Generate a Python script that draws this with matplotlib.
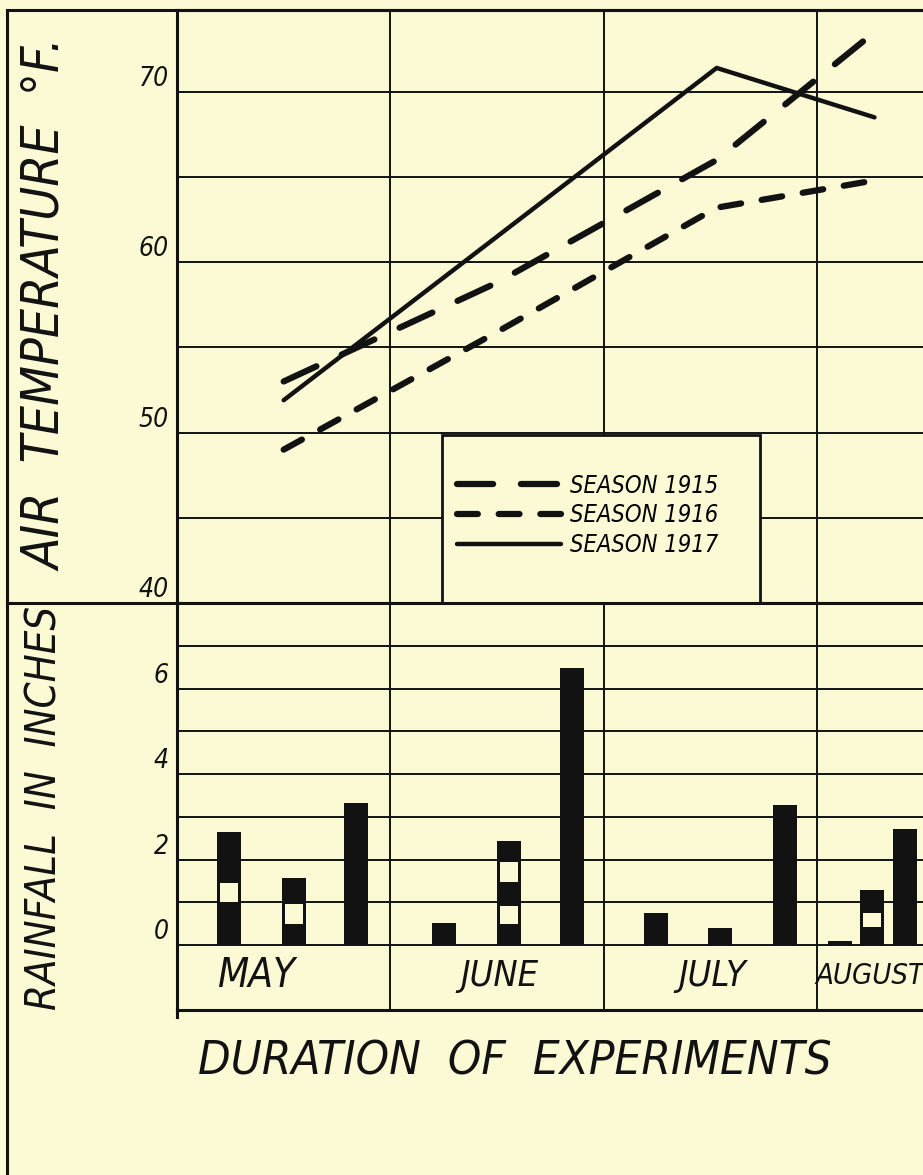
import matplotlib
matplotlib.use("Agg")
import matplotlib.pyplot as plt
from matplotlib.lines import Line2D
from matplotlib.patches import Rectangle

plt.rcParams['lines.scale_dashes'] = False

W, H = 923, 1175
BG = '#fcf9d5'
INK = '#121212'
FONT = ['DejaVu Sans']
STRETCH = 'condensed'

# x in month units: May starts at 0, each month is 1 wide
months = ['MAY', 'JUNE', 'JULY', 'AUGUST']
month_label_x = [0.37, 1.51, 2.51, 3.25]
month_label_size = [29, 26, 26, 21]

# air temperature, deg F
temp_x = [0.5, 1.5, 2.53, 3.27]
temp_1915 = [53.0, 58.8, 66.0, 73.5]
temp_1916 = [49.0, 55.9, 63.2, 64.8]
temp_1917 = [51.9, 61.5, 71.4, 68.5]

# rainfall, inches
rain_x_1915 = [0.244, 1.252, 2.246, 3.108]
rain_x_1916 = [0.549, 1.557, 2.546, 3.258]
rain_x_1917 = [0.839, 1.852, 2.850, 3.413]
rain_1915 = [2.64, 0.51, 0.75, 0.09]
rain_1916 = [1.57, 2.43, 0.40, 1.29]
rain_1917 = [3.32, 6.48, 3.27, 2.71]
# light bands inside some bars
band_x = [0.244, 0.549, 1.557, 1.557, 3.258]
band_lo = [1.01, 0.49, 1.47, 0.49, 0.42]
band_hi = [1.45, 0.96, 1.94, 0.91, 0.75]

temp_ticks = [40, 45, 50, 55, 60, 65, 70]
temp_labels = ['40', '', '50', '', '60', '', '70']
rain_ticks = [0, 1, 2, 3, 4, 5, 6, 7]
rain_labels = ['0', '', '2', '', '4', '', '6', '']

PX_MONTH = 213.3
X0 = 177


def fig_rect(x0, y0, x1, y1):
    # pixel box -> figure fraction [left, bottom, width, height]
    return [x0 / W, 1 - y1 / H, (x1 - x0) / W, (y1 - y0) / H]


def style_axes(ax, ticks, labels, ylim):
    ax.set_facecolor(BG)
    ax.set_xlim(0, (W - X0) / PX_MONTH)
    ax.set_ylim(*ylim)
    ax.set_xticks([1, 2, 3])
    ax.set_yticks(ticks)
    ax.set_yticklabels(labels, family=FONT, style='italic', fontsize=19,
                       fontstretch=STRETCH)
    for t in ax.get_yticklabels():
        t.set_va('bottom')
    ax.tick_params(length=0, labelbottom=False, pad=6, colors=INK)
    ax.grid(True, color=INK, lw=1.4)
    ax.set_axisbelow(True)
    ax.spines['right'].set_visible(False)
    for s in ['left', 'top', 'bottom']:
        ax.spines[s].set_linewidth(2.2)
        ax.spines[s].set_color(INK)


fig = plt.figure(figsize=(W / 100, H / 100), dpi=100, facecolor=BG)

ax_t = fig.add_axes(fig_rect(X0, 10, W, 603))
style_axes(ax_t, temp_ticks, temp_labels, (40, 74.8))

ax_t.plot(temp_x, temp_1915, color=INK, lw=4.5, dashes=(26, 20),
          dash_capstyle='round', label='SEASON 1915', zorder=3)
ax_t.plot(temp_x, temp_1916, color=INK, lw=4.5, dashes=(15, 15),
          dash_capstyle='round', label='SEASON 1916', zorder=3)
ax_t.plot(temp_x, temp_1917, color=INK, lw=3.2, solid_capstyle='round',
          label='SEASON 1917', zorder=3)

# legend box, opaque, sitting on the 40 line
ax_t.add_patch(Rectangle((0.3552, 0.0), 0.4263, 0.2833, transform=ax_t.transAxes,
                         facecolor=BG, edgecolor=INK, lw=2, zorder=4))
leg = ax_t.legend(loc='center left', bbox_to_anchor=(0.3753, 0.1476),
                  frameon=False, borderpad=0, borderaxespad=0,
                  handlelength=4.4, handletextpad=0.4, labelspacing=0.25,
                  prop=dict(family=FONT, style='italic', size=17,
                            stretch=STRETCH))
leg.set_zorder(5)

ax_r = fig.add_axes(fig_rect(X0, 603, W, 1010))
style_axes(ax_r, rain_ticks, rain_labels, (-1.52, 8.0))

bw = 0.11
ax_r.bar(rain_x_1915, rain_1915, width=bw, color=INK, zorder=3)
ax_r.bar(rain_x_1916, rain_1916, width=bw, color=INK, zorder=3)
ax_r.bar(rain_x_1917, rain_1917, width=bw, color=INK, zorder=3)
ax_r.bar(band_x, [hi - lo for lo, hi in zip(band_lo, band_hi)], bottom=band_lo,
         width=bw - 0.024, color=BG, zorder=4)

for x, m, fs in zip(month_label_x, months, month_label_size):
    ax_r.text(x, -0.72, m, ha='center', va='center', family=FONT,
              style='italic', fontsize=fs, fontstretch=STRETCH, color=INK)

# outer frame of the drawing
for xs, ys in [((7, W), (10, 10)), ((7, 7), (10, H)), ((7, X0), (603, 603)),
               ((X0, X0), (1010, 1017))]:
    fig.add_artist(Line2D([x / W for x in xs], [1 - y / H for y in ys],
                          color=INK, lw=2.2))

fig.text(47 / W, 1 - 305 / H, 'AIR  TEMPERATURE  °F.', rotation=90,
         ha='center', va='center', family=FONT, style='italic',
         fontsize=37, fontstretch=STRETCH, color=INK)
fig.text(45 / W, 1 - 808 / H, 'RAINFALL  IN  INCHES', rotation=90,
         ha='center', va='center', family=FONT, style='italic',
         fontsize=30, fontstretch=STRETCH, color=INK)
fig.text(515 / W, 1 - 1062 / H, 'DURATION  OF  EXPERIMENTS', ha='center',
         va='center', family=FONT, style='italic', fontsize=34,
         fontstretch=STRETCH, color=INK)

fig.savefig('out.png', dpi=100, facecolor=BG)
